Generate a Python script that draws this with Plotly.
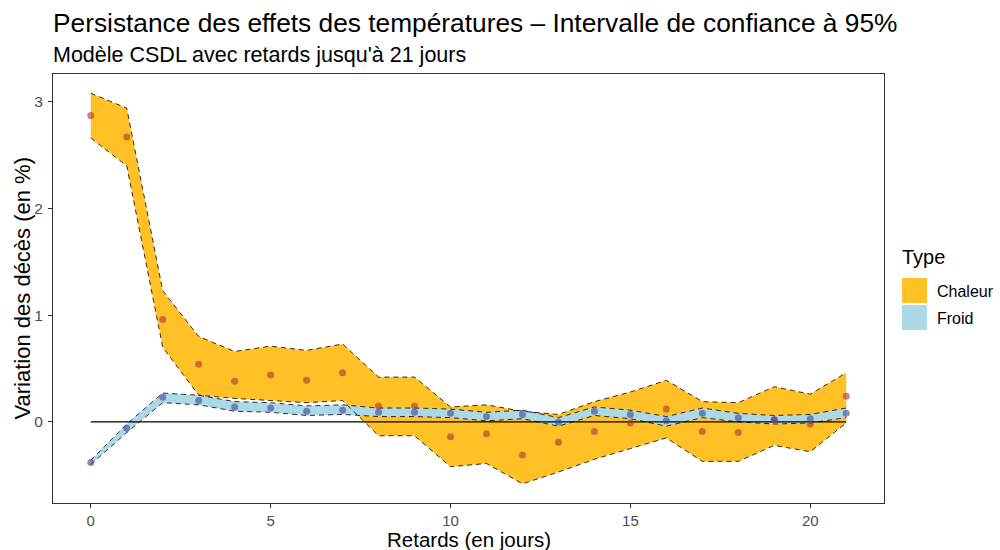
import plotly.graph_objects as go

lags = list(range(22))

heat_est = [2.87, 2.67, 0.96, 0.54, 0.38, 0.44, 0.39, 0.46, 0.15, 0.15, -0.14, -0.11,
            -0.31, -0.19, -0.09, -0.01, 0.12, -0.09, -0.10, 0.02, -0.02, 0.24]
heat_upper = [3.08, 2.94, 1.23, 0.80, 0.66, 0.71, 0.67, 0.73, 0.42, 0.42, 0.14, 0.16,
              0.10, 0.07, 0.19, 0.28, 0.39, 0.19, 0.18, 0.33, 0.26, 0.46]
heat_lower = [2.66, 2.40, 0.70, 0.25, 0.22, 0.20, 0.18, 0.20, -0.13, -0.13, -0.42, -0.39,
              -0.58, -0.47, -0.35, -0.25, -0.15, -0.37, -0.37, -0.22, -0.28, -0.01]

cold_est = [-0.38, -0.06, 0.23, 0.20, 0.14, 0.13, 0.10, 0.11, 0.09, 0.09, 0.08, 0.05,
            0.07, 0.00, 0.10, 0.07, 0.01, 0.08, 0.04, 0.02, 0.03, 0.08]
cold_upper = [-0.36, -0.02, 0.27, 0.25, 0.19, 0.18, 0.15, 0.16, 0.13, 0.13, 0.12, 0.09,
              0.11, 0.04, 0.14, 0.11, 0.05, 0.13, 0.08, 0.06, 0.07, 0.13]
cold_lower = [-0.40, -0.10, 0.18, 0.16, 0.10, 0.09, 0.06, 0.07, 0.05, 0.05, 0.04, 0.01,
              0.03, -0.04, 0.06, 0.03, -0.04, 0.04, 0.00, -0.02, -0.01, 0.04]

types = ["Chaleur", "Froid"]
fill_colors = ["#FFC125", "#ADD8E6"]
point_colors = ["rgba(170,50,60,0.6)", "rgba(60,70,150,0.6)"]

FONT = "Liberation Sans, Arial, sans-serif"

fig = go.Figure()

bands = [(heat_upper, heat_lower), (cold_upper, cold_lower)]
for (up, lo), fc in zip(bands, fill_colors):
    fig.add_trace(go.Scatter(
        x=lags + lags[::-1], y=up + lo[::-1], fill="toself", fillcolor=fc,
        mode="lines", line=dict(width=0), hoverinfo="skip", showlegend=False))

for up, lo in bands:
    for series in (up, lo):
        fig.add_trace(go.Scatter(
            x=lags, y=series, mode="lines",
            line=dict(color="black", width=0.8, dash="5px,4px"),
            hoverinfo="skip", showlegend=False))

fig.add_trace(go.Scatter(x=[lags[0], lags[-1]], y=[0, 0], mode="lines",
                         line=dict(color="black", width=1.4), showlegend=False,
                         hoverinfo="skip"))

for est, pc, name in zip([heat_est, cold_est], point_colors, types):
    fig.add_trace(go.Scatter(x=lags, y=est, mode="markers", name=name,
                             marker=dict(color=pc, size=7, line=dict(width=0)),
                             showlegend=False))

# geometry helpers (paper coords)
L, R, T, B = 53, 116, 74, 47
W, H = 1000 - L - R, 550 - T - B
def px(x):
    return (x - L) / W
def py(y):
    return (550 - B - y) / H

shapes = []
annotations = []
annotations.append(dict(x=px(900), y=py(257), xref="paper", yref="paper", text="Type",
                        showarrow=False, xanchor="left", yanchor="middle",
                        font=dict(size=20, color="black", family=FONT)))
for i, (name, fc) in enumerate(zip(types, fill_colors)):
    y0 = 278 + i * 27
    shapes.append(dict(type="rect", xref="paper", yref="paper",
                       x0=px(902), x1=px(927), y0=py(y0), y1=py(y0 + 25),
                       fillcolor=fc, line=dict(width=0)))
    annotations.append(dict(x=px(935), y=py(y0 + 13), xref="paper", yref="paper",
                            text=name, showarrow=False, xanchor="left", yanchor="middle",
                            font=dict(size=16, color="black", family=FONT)))

annotations.append(dict(x=px(51), y=py(23), xref="paper", yref="paper",
                        text="Persistance des effets des températures – Intervalle de confiance à 95%",
                        showarrow=False, xanchor="left", yanchor="middle",
                        font=dict(size=26.3, color="black", family=FONT)))
annotations.append(dict(x=px(51), y=py(55), xref="paper", yref="paper",
                        text="Modèle CSDL avec retards jusqu'à 21 jours",
                        showarrow=False, xanchor="left", yanchor="middle",
                        font=dict(size=21.5, color="black", family=FONT)))
# axis titles
annotations.append(dict(x=0.5, y=py(539), xref="paper", yref="paper",
                        text="Retards (en jours)", showarrow=False,
                        xanchor="center", yanchor="middle",
                        font=dict(size=20.5, color="black", family=FONT)))
annotations.append(dict(x=px(22), y=0.5, xref="paper", yref="paper",
                        text="Variation des décès (en %)", showarrow=False, textangle=-90,
                        xanchor="center", yanchor="middle",
                        font=dict(size=22, color="black", family=FONT)))

fig.update_layout(
    width=1000, height=550,
    margin=dict(l=L, r=R, t=T, b=B, autoexpand=False),
    paper_bgcolor="white", plot_bgcolor="white",
    font=dict(family=FONT),
    showlegend=False,
    shapes=shapes, annotations=annotations,
    xaxis=dict(range=[-1.05, 22.05], tickvals=[0, 5, 10, 15, 20], automargin=False,
               showgrid=False, zeroline=False, showline=True, mirror=True,
               linecolor="#333333", linewidth=1.2,
               ticks="outside", ticklen=4, tickcolor="#333333", tickwidth=1,
               ticklabelstandoff=0,
               tickfont=dict(size=15, color="#4D4D4D", family=FONT)),
    yaxis=dict(range=[-0.76, 3.26], tickvals=[0, 1, 2, 3], automargin=False,
               showgrid=False, zeroline=False, showline=True, mirror=True,
               linecolor="#333333", linewidth=1.2,
               ticks="outside", ticklen=4, tickcolor="#333333", tickwidth=1,
               ticklabelstandoff=2,
               tickfont=dict(size=15.5, color="#4D4D4D", family=FONT)),
)

fig.write_html("out.html", config={"displayModeBar": False},
               post_script="document.body.style.margin='0';document.body.style.overflow='hidden';")
